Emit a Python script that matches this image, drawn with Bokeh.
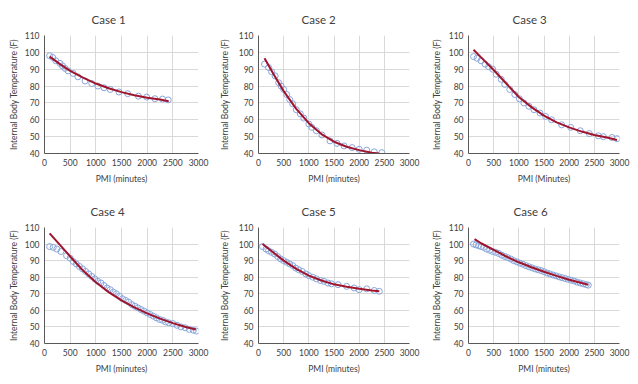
from bokeh.plotting import figure
from bokeh.layouts import row, column
from bokeh.models import FixedTicker, Range1d
from bokeh.embed import file_html
from bokeh.resources import INLINE

# ---- data ----
titles = ["Case 1", "Case 2", "Case 3", "Case 4", "Case 5", "Case 6"]
x_labels = ["PMI (minutes)", "PMI (minutes)", "PMI (Minutes)",
            "PMI (minutes)", "PMI (minutes)", "PMI (minutes)"]
y_label = "Internal Body Temperature (F)"
x_ticks = [0, 500, 1000, 1500, 2000, 2500, 3000]
y_ticks = [40, 50, 60, 70, 80, 90, 100, 110]

c1_obs_x = [100, 160, 220, 300, 350, 400, 460, 560, 650, 790, 920, 1040, 1160, 1280, 1450, 1620, 1830, 1990, 2150, 2300, 2410]
c1_obs_y = [98, 97, 95, 93.5, 92, 90.5, 89, 87.5, 85.5, 83, 81.5, 80, 79, 78, 76.5, 75.5, 74, 73.5, 72.5, 72.3, 71.8]
c1_fit_x = [100, 300, 500, 750, 1000, 1250, 1500, 1750, 2000, 2250, 2420]
c1_fit_y = [97.5, 93, 89, 85, 81.5, 78.7, 76.4, 74.6, 73.1, 72, 71]

c2_obs_x = [120, 200, 260, 330, 400, 450, 500, 560, 620, 680, 750, 830, 900, 1000, 1060, 1150, 1260, 1420, 1560, 1700, 1860, 2000, 2150, 2300, 2450]
c2_obs_y = [93, 91, 88.5, 86, 82, 80, 78, 75, 72, 69.5, 66, 63.5, 61, 57.5, 55.5, 53.5, 51, 47.5, 46, 44.5, 43.5, 42.5, 42, 41, 40.5]
c2_fit_x = [120, 300, 500, 750, 1000, 1250, 1500, 1750, 2000, 2250, 2400]
c2_fit_y = [96.5, 87, 77, 66.5, 58, 51.5, 47, 44, 42, 40.5, 40]

c3_obs_x = [100, 170, 250, 330, 400, 480, 550, 650, 720, 820, 920, 1010, 1100, 1200, 1300, 1420, 1530, 1650, 1850, 2030, 2220, 2400, 2580, 2680, 2850, 2950]
c3_obs_y = [97.5, 96.5, 95, 93, 91.5, 90, 87, 84, 81, 78, 75, 72.5, 70, 68, 66, 64, 62, 60, 57, 55.5, 53.5, 51.8, 50.5, 50, 49.5, 48.8]
c3_fit_x = [100, 250, 500, 750, 1000, 1250, 1500, 1750, 2000, 2250, 2500, 2750, 2950]
c3_fit_y = [101.5, 97, 89.5, 81.5, 73.5, 67.5, 62.5, 58.5, 55.5, 53, 51, 49.5, 48]

c4_obs_x = [100, 170, 240, 320, 430, 500, 560, 620, 680, 740, 800, 860, 920, 980, 1040, 1100, 1160, 1220, 1280, 1340, 1400, 1460, 1520, 1580, 1640, 1700, 1760, 1820, 1880, 1940, 2000, 2060, 2120, 2180, 2240, 2300, 2360, 2420, 2500, 2580, 2660, 2740, 2820, 2900, 2960]
c4_obs_y = [98.5, 98, 97, 95.5, 93, 91.5, 89.5, 88, 86.5, 85, 83.5, 82, 80.5, 79, 77.5, 76.5, 75, 73.5, 72.5, 71, 70, 68.5, 67, 66, 65, 63.5, 62.5, 61.5, 60.5, 59.5, 58.5, 57.5, 56.5, 55.5, 54.5, 54, 53, 52.5, 52, 51, 50, 49.5, 48.5, 48, 47.5]
c4_fit_x = [100, 200, 300, 400, 500, 750, 1000, 1250, 1500, 1750, 2000, 2250, 2500, 2750, 2950]
c4_fit_y = [106.5, 103, 99.5, 96, 92.5, 84, 77, 71, 66, 61.8, 58.2, 55, 52.3, 50, 48.5]

c5_obs_x = [80, 150, 200, 260, 320, 380, 440, 500, 560, 620, 680, 740, 800, 870, 940, 1000, 1080, 1150, 1230, 1300, 1380, 1450, 1580, 1750, 1900, 2000, 2150, 2300, 2400]
c5_obs_y = [98.5, 97, 96, 95, 94, 92.5, 91, 90, 89, 88, 87, 85.5, 84.5, 83.5, 82, 81, 80, 79, 78, 77.5, 76.5, 76, 75.5, 74.5, 73.5, 72.5, 73, 72, 71.5]
c5_fit_x = [80, 250, 500, 750, 1000, 1250, 1500, 1750, 2000, 2250, 2400]
c5_fit_y = [100, 96, 90, 85, 81, 78, 75.7, 74.2, 73, 72, 71.5]

c6_obs_x = [100, 150, 200, 250, 300, 360, 420, 480, 540, 600, 660, 720, 780, 840, 900, 960, 1020, 1080, 1140, 1200, 1260, 1320, 1380, 1440, 1500, 1560, 1620, 1680, 1740, 1800, 1860, 1920, 1980, 2040, 2100, 2160, 2220, 2280, 2340, 2380]
c6_obs_y = [100, 99.5, 99, 98.5, 98, 97, 96.3, 95.5, 95, 94.3, 93.3, 92.5, 91.8, 91, 90, 89.3, 88.5, 87.8, 87, 86.3, 85.7, 85, 84.5, 84, 83.3, 82.5, 82, 81.3, 80.8, 80.2, 79.7, 79.2, 78.7, 78.2, 77.7, 77, 76.5, 76, 75.5, 75.2]
c6_fit_x = [120, 250, 500, 750, 1000, 1250, 1500, 1750, 2000, 2250, 2380]
c6_fit_y = [103, 100.5, 96.5, 92.5, 89, 86, 83.3, 80.8, 78.5, 76.5, 75.5]

obs = [(c1_obs_x, c1_obs_y), (c2_obs_x, c2_obs_y), (c3_obs_x, c3_obs_y),
       (c4_obs_x, c4_obs_y), (c5_obs_x, c5_obs_y), (c6_obs_x, c6_obs_y)]
fits = [(c1_fit_x, c1_fit_y), (c2_fit_x, c2_fit_y), (c3_fit_x, c3_fit_y),
        (c4_fit_x, c4_fit_y), (c5_fit_x, c5_fit_y), (c6_fit_x, c6_fit_y)]

# ---- layout ----
FONT = "Lato"
col_left = [44, 44, 43]
col_right = [16, 16, 11]
frame_w = [154, 151, 151]
ylab_standoff = [3, 6, 4]
row_top = [33, 33]
row_bottom = [39, 31]
frame_h = 120
title_offset = [47, 43, 44, 46, 43, 45]

figs = []
for i in range(6):
    r, c = divmod(i, 3)
    w = col_left[c] + frame_w[c] + col_right[c]
    h = row_top[r] + frame_h + row_bottom[r]
    p = figure(width=w, height=h, output_backend="svg", toolbar_location=None,
               x_range=Range1d(0, 3000), y_range=Range1d(40, 110),
               min_border_left=col_left[c], min_border_right=col_right[c],
               min_border_top=row_top[r], min_border_bottom=row_bottom[r],
               title=titles[i])
    p.outline_line_color = None
    p.title.align = "left"
    p.title.offset = title_offset[i]
    p.title.text_font = FONT
    p.title.text_font_size = "11.5px"
    p.title.text_font_style = "normal"
    p.title.text_color = "#404040"
    p.title.standoff = 20

    for ax in (p.xaxis[0], p.yaxis[0]):
        ax.major_tick_out = 0
        ax.major_tick_in = 0
        ax.minor_tick_out = 0
        ax.minor_tick_in = 0
        ax.axis_line_color = "#595959"
        ax.axis_line_width = 1
        ax.major_label_text_font = FONT
        ax.major_label_text_font_size = "8.5px"
        ax.major_label_text_color = "#404040"
        ax.axis_label_text_font = FONT
        ax.axis_label_text_font_size = "8.5px"
        ax.axis_label_text_font_style = "normal"
        ax.axis_label_text_color = "#404040"
    p.xaxis.ticker = FixedTicker(ticks=x_ticks)
    p.yaxis.ticker = FixedTicker(ticks=y_ticks)
    p.xaxis.axis_label = x_labels[i]
    p.yaxis.axis_label = y_label
    p.xaxis.major_label_standoff = 5
    p.xaxis.axis_label_standoff = 5
    p.yaxis.major_label_standoff = 5
    p.yaxis.axis_label_standoff = ylab_standoff[c]
    p.xgrid.ticker = FixedTicker(ticks=x_ticks)
    p.ygrid.ticker = FixedTicker(ticks=y_ticks)
    p.xgrid.grid_line_color = "#D9D9D9"
    p.ygrid.grid_line_color = "#D9D9D9"

    ox, oy = obs[i]
    p.scatter(ox, oy, marker="circle", size=6, fill_color=None,
              line_color="#8AA6DA", line_width=1)
    fx, fy = fits[i]
    p.line(fx, fy, line_color="#A0152E", line_width=2)
    figs.append(p)

layout = column(row(*figs[:3]), row(*figs[3:]))
open("out.html", "w").write(file_html(layout, INLINE))
